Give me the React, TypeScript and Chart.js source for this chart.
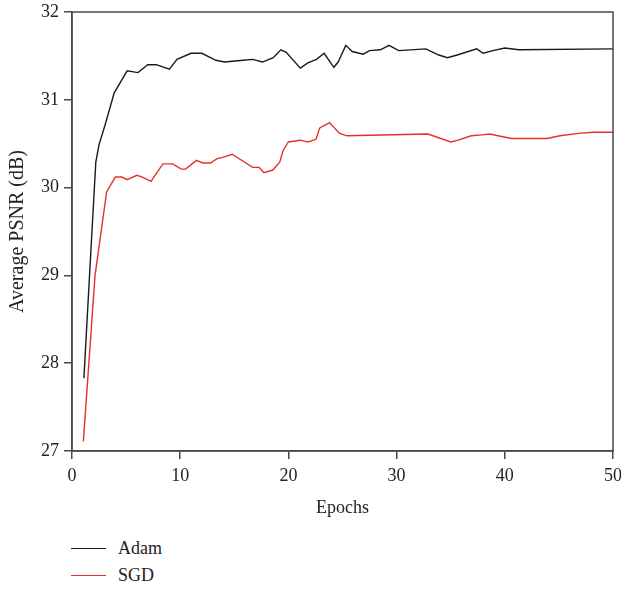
import React, { useEffect, useRef } from "react";
import { Chart, registerables } from "chart.js";

Chart.register(...registerables);

const adamEpochs = [1.1, 1.75, 2.2, 2.5, 3.05, 3.9, 5.1, 6.1, 7.0, 7.8, 9.0, 9.7, 11.0, 12.0, 13.3, 14.1, 15.8, 16.7, 17.6, 18.6, 19.3, 19.8, 21.1, 21.8, 22.6, 23.3, 24.2, 24.6, 25.3, 25.9, 26.9, 27.5, 28.5, 29.3, 30.2, 32.7, 33.9, 34.7, 35.6, 37.4, 38.0, 38.9, 40.0, 41.3, 50];
const adamPsnr = [27.83, 29.29, 30.29, 30.49, 30.71, 31.08, 31.33, 31.31, 31.4, 31.4, 31.35, 31.46, 31.53, 31.53, 31.45, 31.43, 31.45, 31.46, 31.43, 31.48, 31.57, 31.54, 31.36, 31.42, 31.46, 31.53, 31.37, 31.43, 31.62, 31.55, 31.52, 31.56, 31.57, 31.62, 31.56, 31.58, 31.51, 31.48, 31.51, 31.58, 31.53, 31.56, 31.59, 31.57, 31.58];

const sgdEpochs = [1.05, 2.13, 3.2, 4.0, 4.6, 5.1, 6.0, 6.5, 7.3, 8.4, 9.3, 10.1, 10.5, 11.5, 12.1, 12.8, 13.4, 14.1, 14.8, 16.7, 17.3, 17.75, 18.55, 19.2, 19.5, 20.0, 21.1, 21.8, 22.55, 22.9, 23.8, 24.7, 25.4, 32.9, 35.0, 35.7, 36.9, 37.9, 38.6, 40.6, 43.9, 45.1, 47.0, 48.2, 50];
const sgdPsnr = [27.11, 29.0, 29.95, 30.12, 30.12, 30.09, 30.14, 30.12, 30.07, 30.27, 30.27, 30.21, 30.21, 30.31, 30.28, 30.28, 30.33, 30.35, 30.38, 30.23, 30.23, 30.17, 30.2, 30.29, 30.42, 30.52, 30.54, 30.52, 30.55, 30.68, 30.74, 30.62, 30.59, 30.61, 30.52, 30.54, 30.59, 30.6, 30.61, 30.56, 30.56, 30.59, 30.62, 30.63, 30.63];

const seriesNames = ["Adam", "SGD"];
const seriesColors = ["#1a1a1a", "#e8302a"];
const xTitle = "Epochs";
const yTitle = "Average PSNR (dB)";
const xMin = 0, xMax = 50, xStep = 10;
const yMin = 27, yMax = 32, yStep = 1;

const FONT = "'Liberation Serif', 'Times New Roman', serif";
const AXIS = "#4a4a4a";

const boxPlugin = {
  id: "boxPlugin",
  afterDraw(chart: any) {
    const { ctx, chartArea } = chart;
    ctx.save();
    ctx.strokeStyle = AXIS;
    ctx.lineWidth = 1.5;
    ctx.strokeRect(chartArea.left, chartArea.top, chartArea.right - chartArea.left, chartArea.bottom - chartArea.top);
    ctx.restore();
  },
};

export default function App() {
  const ref = useRef<HTMLCanvasElement | null>(null);
  useEffect(() => {
    if (!ref.current) return;
    const mk = (xs: number[], ys: number[]) => xs.map((x, i) => ({ x, y: ys[i] }));
    const chart = new Chart(ref.current, {
      type: "line",
      data: {
        datasets: [
          { label: seriesNames[0], data: mk(adamEpochs, adamPsnr), borderColor: seriesColors[0], borderWidth: 1.4, pointRadius: 0, tension: 0, fill: false },
          { label: seriesNames[1], data: mk(sgdEpochs, sgdPsnr), borderColor: seriesColors[1], borderWidth: 1.4, pointRadius: 0, tension: 0, fill: false },
        ],
      },
      options: {
        animation: false,
        responsive: false,
        maintainAspectRatio: false,
        layout: { padding: { left: 0, right: 8, top: 12, bottom: 0 } },
        plugins: { legend: { display: false }, tooltip: { enabled: false } },
        scales: {
          x: {
            type: "linear",
            min: xMin,
            max: xMax,
            ticks: { stepSize: xStep, font: { family: FONT, size: 18 }, color: "#222", padding: 6, maxRotation: 0 },
            grid: { drawOnChartArea: false, drawTicks: true, tickLength: 8, color: AXIS, lineWidth: 1.5 },
            border: { display: true, color: AXIS, width: 1.5 },
            title: { display: true, text: xTitle, font: { family: FONT, size: 18 }, color: "#222", padding: { top: 0, bottom: 11 } },
            afterFit: (s: any) => { s.height = 79; s.paddingLeft = 0; s.paddingRight = 0; },
          },
          y: {
            type: "linear",
            min: yMin,
            max: yMax,
            ticks: { stepSize: yStep, font: { family: FONT, size: 18 }, color: "#222", padding: 5 },
            grid: { drawOnChartArea: false, drawTicks: true, tickLength: 8, color: AXIS, lineWidth: 1.5 },
            border: { display: true, color: AXIS, width: 1.5 },
            title: { display: true, text: yTitle, font: { family: FONT, size: 20 }, color: "#222", padding: { top: 6, bottom: 0 } },
            afterFit: (s: any) => { s.width = 72; s.paddingTop = 0; s.paddingBottom = 0; },
          },
        },
      },
      plugins: [boxPlugin],
    } as any);
    return () => chart.destroy();
  }, []);

  return (
    <div style={{ position: "absolute", left: 0, top: 0, width: 621, height: 589, background: "#fff", overflow: "hidden" }}>
      <canvas ref={ref} width={621} height={530} style={{ display: "block" }} />
      {seriesNames.map((n, i) => (
        <div key={n} style={{ position: "absolute", left: 71, top: 535 + i * 27, height: 26, display: "flex", alignItems: "center", fontFamily: FONT, fontSize: 18, color: "#222" }}>
          <span style={{ display: "inline-block", width: 35, height: 0, borderTop: `1.5px solid ${seriesColors[i]}`, marginRight: 12 }} />
          <span>{n}</span>
        </div>
      ))}
    </div>
  );
}
